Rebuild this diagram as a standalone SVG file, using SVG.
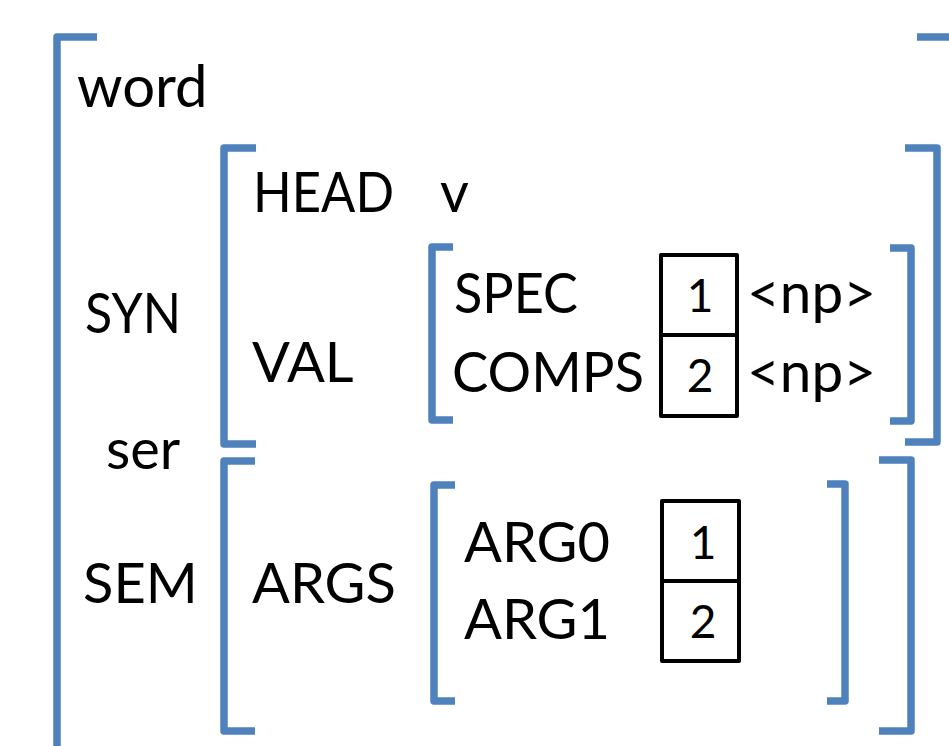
<svg xmlns="http://www.w3.org/2000/svg" width="949" height="746" viewBox="0 0 949 746">
<style>
.br{fill:none;stroke:#4F81BD;stroke-width:7.5;stroke-linejoin:round;stroke-linecap:butt}
.bx{fill:none;stroke:#000;stroke-width:4;stroke-linejoin:round}
.t{font-family:Lato,"Open Sans","Liberation Sans",sans-serif;font-size:56px;fill:#000}
.n{font-family:Lato,"Open Sans","Liberation Sans",sans-serif;font-size:46px;fill:#000;text-anchor:middle}
</style>
<rect width="949" height="746" fill="#fff"/>
<g id="outer">
<path class="br" d="M97,37 H57 V760"/>
<path class="br" d="M917,37 H960"/>
<text class="t" x="77" y="107" style="font-size:58px">word</text>
<text class="t" x="85" y="333" textLength="96" lengthAdjust="spacingAndGlyphs">SYN</text>
<text class="t" x="106" y="469">ser</text>
<text class="t" x="83" y="603">SEM</text>
</g>
<g id="syn">
<path class="br" d="M256,148 H224 V444 H256"/>
<path class="br" d="M905,148 H937 V442 H905"/>
<text class="t" x="253" y="212" textLength="141" lengthAdjust="spacingAndGlyphs">HEAD</text>
<text class="t" x="440" y="212">v</text>
<text class="t" x="252" y="382">VAL</text>
</g>
<g id="val">
<path class="br" d="M453,247 H432 V420 H453"/>
<path class="br" d="M890,248 H911 V421 H890"/>
<text class="t" x="454" y="313" textLength="124" lengthAdjust="spacingAndGlyphs">SPEC</text>
<text class="t" x="452" y="392" textLength="192" lengthAdjust="spacingAndGlyphs">COMPS</text>
<rect class="bx" x="661" y="255" width="76" height="80"/>
<rect class="bx" x="661" y="335" width="76" height="81"/>
<text class="n" x="700" y="312">1</text>
<text class="n" x="700" y="392">2</text>
<text class="t" x="747" y="313" textLength="129" lengthAdjust="spacingAndGlyphs">&lt;np&gt;</text>
<text class="t" x="747" y="392" textLength="129" lengthAdjust="spacingAndGlyphs">&lt;np&gt;</text>
</g>
<g id="sem">
<path class="br" d="M255,461 H224 V731 H255"/>
<path class="br" d="M879,460 H911 V731 H879"/>
<text class="t" x="252" y="603">ARGS</text>
</g>
<g id="args">
<path class="br" d="M455,485 H434 V701 H455"/>
<path class="br" d="M827,484 H845 V701 H827"/>
<text class="t" x="464" y="562">ARG0</text>
<text class="t" x="464" y="639">ARG1</text>
<rect class="bx" x="662" y="501" width="77" height="80"/>
<rect class="bx" x="662" y="581" width="77" height="80"/>
<text class="n" x="703" y="559">1</text>
<text class="n" x="703" y="638">2</text>
</g>
<g id="connectors"/>
</svg>
